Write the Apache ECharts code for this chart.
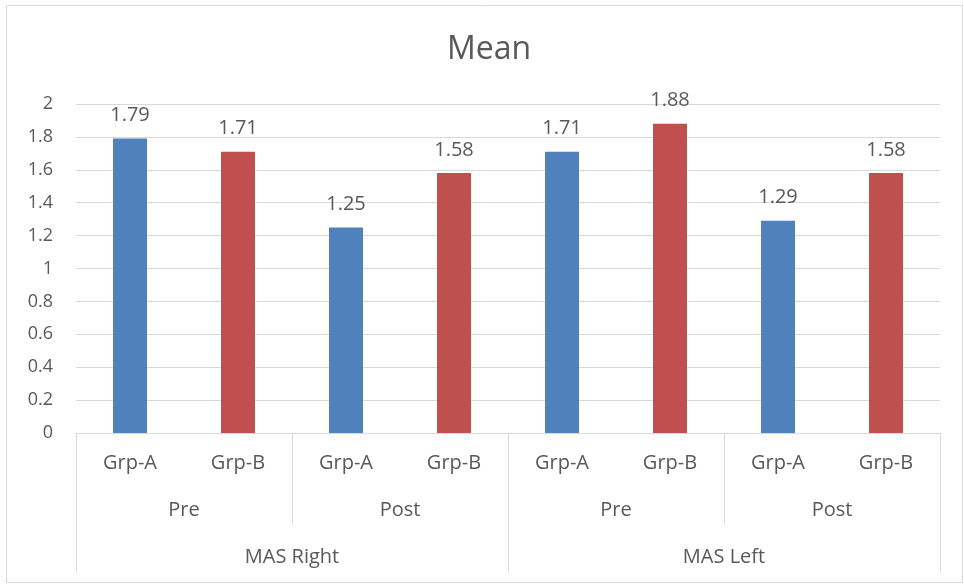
<!DOCTYPE html>
<html>
<head>
<meta charset="utf-8">
<script src="https://cdn.jsdelivr.net/npm/echarts@6/dist/echarts.min.js"></script>
<style>
  html, body { margin: 0; padding: 0; background: #ffffff; }
  #chart { width: 964px; height: 585px; }
</style>
</head>
<body>
<div id="chart"></div>
<script>
// Three-level category labels along the bottom
const groupLabels = ['Grp-A', 'Grp-B', 'Grp-A', 'Grp-B', 'Grp-A', 'Grp-B', 'Grp-A', 'Grp-B'];
const phaseLabels = ['Pre', 'Post', 'Pre', 'Post'];
const sideLabels = ['MAS Right', 'MAS Left'];

// Mean values; each series only fills its own group's slots
const grpAValues = [1.79, null, 1.25, null, 1.71, null, 1.29, null];
const grpBValues = [null, 1.71, null, 1.58, null, 1.88, null, 1.58];

// Value axis ticks
const yTicks = [0, 0.2, 0.4, 0.6, 0.8, 1, 1.2, 1.4, 1.6, 1.8, 2];

const FONT = '"Open Sans", "Noto Sans", sans-serif';
const TEXT = '#595959';
const LINE = '#d9d9d9';

const chart = echarts.init(document.getElementById('chart'), null, { renderer: 'canvas' });

const barLabel = {
  show: true,
  position: 'top',
  distance: 13,
  color: TEXT,
  fontFamily: FONT,
  fontSize: 20,
  formatter: p => p.value == null ? '' : String(p.value)
};

chart.setOption({
  animation: false,
  backgroundColor: '#ffffff',
  graphic: [{
    type: 'rect',
    shape: { x: 6.5, y: 5.5, width: 956, height: 577 },
    style: { fill: 'none', stroke: LINE, lineWidth: 1 },
    silent: true
  }],
  title: {
    text: 'Mean',
    left: 442,
    top: 29,
    textStyle: { color: TEXT, fontFamily: FONT, fontSize: 32, fontWeight: 'normal' }
  },
  grid: { left: 76, right: 24, top: 104, bottom: 152, containLabel: false },
  xAxis: [
    {
      type: 'category',
      data: groupLabels,
      position: 'bottom',
      axisLine: { show: true, lineStyle: { color: LINE, width: 1 } },
      axisTick: { show: false },
      axisLabel: { interval: 0, margin: 20, color: TEXT, fontFamily: FONT, fontSize: 20 }
    },
    {
      type: 'category',
      data: phaseLabels,
      position: 'bottom',
      axisLine: { show: false },
      axisTick: { show: true, length: 91, lineStyle: { color: LINE, width: 1 } },
      axisLabel: { interval: 0, margin: 67, color: TEXT, fontFamily: FONT, fontSize: 20 }
    },
    {
      type: 'category',
      data: sideLabels,
      position: 'bottom',
      axisLine: { show: false },
      axisTick: { show: true, length: 139, lineStyle: { color: LINE, width: 1 } },
      axisLabel: { interval: 0, margin: 114, color: TEXT, fontFamily: FONT, fontSize: 20 }
    }
  ],
  yAxis: {
    type: 'value',
    min: yTicks[0],
    max: yTicks[yTicks.length - 1],
    interval: 0.2,
    axisLine: { show: false },
    axisTick: { show: false },
    splitLine: { show: true, lineStyle: { color: LINE, width: 1 } },
    axisLabel: {
      margin: 23,
      color: TEXT,
      fontFamily: FONT,
      fontSize: 18,
      formatter: v => String(Math.round(v * 10) / 10)
    }
  },
  series: [
    {
      name: 'Grp-A',
      type: 'bar',
      xAxisIndex: 0,
      data: grpAValues,
      barWidth: 34,
      barGap: '-100%',
      itemStyle: { color: '#4f81bd' },
      label: barLabel
    },
    {
      name: 'Grp-B',
      type: 'bar',
      xAxisIndex: 0,
      data: grpBValues,
      barWidth: 34,
      barGap: '-100%',
      itemStyle: { color: '#c0504d' },
      label: barLabel
    }
  ]
});
</script>
</body>
</html>
